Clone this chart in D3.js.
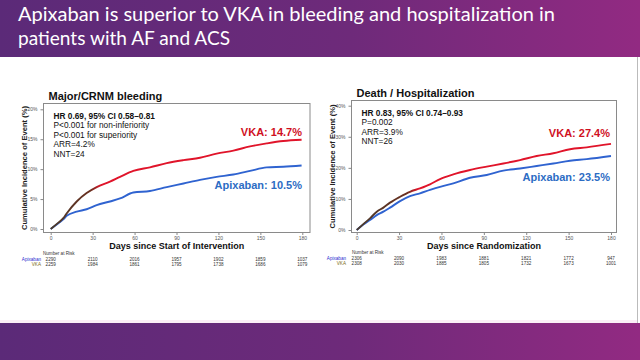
<!DOCTYPE html>
<html><head><meta charset="utf-8">
<script src="https://cdn.jsdelivr.net/npm/d3@7"></script>
<style>html,body{margin:0;padding:0;background:#fff;}svg{display:block;}</style>
</head><body>
<svg id="c" width="640" height="360"></svg>
<script>
const titleLines = ["Apixaban is superior to VKA in bleeding and hospitalization in", "patients with AF and ACS"];
const xTicks = [0, 30, 60, 90, 120, 150, 180];

// Panel 1: Major/CRNM bleeding
const bleedDays = [0, 5.5, 9, 11.4, 18.6, 25.7, 32.9, 42.4, 49.6, 59.1, 71, 83, 95, 106.8, 118.7, 130.7, 142.6, 154.5, 166.4, 179.5];
const bleedVKA  = [0, 1.06, 1.8, 2.6, 4.6, 6.0, 7.0, 7.9, 8.7, 9.7, 10.3, 11.0, 11.5, 11.9, 12.6, 13.1, 13.8, 14.3, 14.7, 14.9];
const bleedApix = [0, 0.95, 1.6, 2.2, 2.9, 3.3, 4.0, 4.6, 5.1, 6.1, 6.35, 7.0, 7.6, 8.2, 8.7, 9.1, 9.7, 10.3, 10.4, 10.6];
const bleedYTicks = [0, 5, 10, 15, 20];
const bleedRiskApix = ["2290", "2110", "2016", "1957", "1902", "1859", "1037"];
const bleedRiskVKA  = ["2259", "1984", "1861", "1795", "1738", "1686", "1079"];
const bleedStats = ["HR 0.69, 95% CI 0.58\u20130.81", "P<0.001 for non-inferiority", "P<0.001 for superiority", "ARR=4.2%", "NNT=24"];

// Panel 2: Death / Hospitalization
const hospDays = [0, 4.7, 9.4, 14.2, 18.9, 23.6, 30.7, 37.7, 44.8, 51.9, 59, 68.4, 80.2, 92, 103.8, 115.6, 127.4, 139.2, 151, 162.8, 180];
const hospVKA  = [0, 1.9, 3.75, 5.9, 7.2, 8.8, 10.7, 12.3, 13.4, 14.7, 16.4, 17.9, 19.3, 20.4, 21.4, 22.5, 23.8, 24.7, 26.0, 26.6, 27.7];
const hospApix = [0, 1.8, 3.2, 4.8, 5.9, 7.2, 9.3, 10.9, 11.8, 12.9, 13.9, 15.0, 16.8, 17.7, 19.1, 19.8, 20.6, 21.4, 22.3, 22.8, 23.8];
const hospYTicks = [0, 10, 20, 30, 40];
const hospRiskApix = ["2306", "2090", "1983", "1881", "1821", "1772", "947"];
const hospRiskVKA  = ["2308", "2030", "1885", "1805", "1732", "1673", "1001"];
const hospStats = ["HR 0.83, 95% CI 0.74\u20130.93", "P=0.002", "ARR=3.9%", "NNT=26"];

const svg = d3.select("#c");
const defs = svg.append("defs");
const g1 = defs.append("linearGradient").attr("id","bar").attr("x1","0").attr("x2","1");
g1.append("stop").attr("offset","0").attr("stop-color","#5b2a78");
g1.append("stop").attr("offset","0.55").attr("stop-color","#6e2a7a");
g1.append("stop").attr("offset","1").attr("stop-color","#922a82");

svg.append("rect").attr("x",0).attr("y",0).attr("width",640).attr("height",57).attr("fill","url(#bar)");
svg.append("rect").attr("x",0).attr("y",323).attr("width",640).attr("height",37).attr("fill","url(#bar)");
svg.append("line").attr("x1",637.5).attr("x2",637.5).attr("y1",57).attr("y2",323).attr("stroke","#bbb").attr("stroke-width",1);
svg.append("rect").attr("x",0).attr("y",320).attr("width",637).attr("height",3).attr("fill","#fbeef6");

const tw = [537, 212];
titleLines.forEach((t,i)=>{
  svg.append("text").attr("x",18).attr("y",21+i*24).attr("fill","#fff")
    .attr("font-family","Lato, 'Open Sans', sans-serif").attr("font-size",19.5)
    .attr("textLength",tw[i]).attr("lengthAdjust","spacingAndGlyphs").text(t);
});

const F = "'Liberation Sans', Arial, sans-serif";
const RED = "#e0142a", BLUE = "#2f63d0";

function panel(o){
  const x = d3.scaleLinear().domain([0,180]).range([o.x0,o.x1]);
  const y = d3.scaleLinear().domain([0,o.ymax]).range([o.y0,o.y1]);
  const g = svg.append("g");
  g.append("rect").attr("x",o.fl).attr("y",o.ft).attr("width",o.fr-o.fl).attr("height",o.fb-o.ft)
    .attr("fill","none").attr("stroke","#8a8a8a").attr("stroke-width",1);
  const ya = g.append("g").attr("transform",`translate(${o.fl},0)`)
    .call(d3.axisLeft(y).tickValues(o.yTicks).tickSize(3).tickFormat(d=>d+"%"));
  ya.select(".domain").remove();
  ya.selectAll("line").attr("stroke","#888");
  ya.selectAll("text").attr("font-family",F).attr("font-size",5).attr("fill","#555");
  const xa = g.append("g").attr("transform",`translate(0,${o.fb})`)
    .call(d3.axisBottom(x).tickValues(xTicks).tickSize(2.5).tickPadding(1.5));
  xa.select(".domain").remove();
  xa.selectAll("line").attr("stroke","#888");
  xa.selectAll("text").attr("font-family",F).attr("font-size",5).attr("fill","#555");
  g.append("text").attr("x",o.fl+5).attr("y",o.ft-4).attr("font-family",F).attr("font-weight","bold")
    .attr("font-size",11).attr("fill","#111").text(o.title);
  g.append("text").attr("x",(o.fl+o.fr)/2).attr("y",o.fb+16).attr("text-anchor","middle")
    .attr("font-family",F).attr("font-weight","bold").attr("font-size",9).attr("fill","#111").text(o.xTitle);
  g.append("text").attr("transform",`translate(${o.fl-17},${(o.ft+o.fb)/2}) rotate(-90)`).attr("text-anchor","middle")
    .attr("font-family",F).attr("font-weight","bold").attr("font-size",7.6).attr("fill","#222")
    .text("Cumulative Incidence of Event (%)");
  o.stats.forEach((s,i)=>{
    g.append("text").attr("x",o.fl+10).attr("y",o.ft+15+i*9.6).attr("font-family",F)
      .attr("font-weight",i===0?"bold":"normal").attr("font-size",8.3).attr("fill","#111").text(s);
  });
  const gid = "vg"+o.id;
  const lg = defs.append("linearGradient").attr("id",gid).attr("gradientUnits","userSpaceOnUse")
    .attr("x1",x(0)).attr("x2",x(180)).attr("y1",0).attr("y2",0);
  lg.append("stop").attr("offset",0).attr("stop-color","#4a3a2a");
  lg.append("stop").attr("offset",o.darkEnd).attr("stop-color","#6a3020");
  lg.append("stop").attr("offset",o.darkEnd+0.04).attr("stop-color",RED);
  lg.append("stop").attr("offset",1).attr("stop-color",RED);
  const line = d3.line().x((d,i)=>x(o.days[i])).y(d=>y(d)).curve(d3.curveMonotoneX);
  g.append("path").attr("d",line(o.apix)).attr("fill","none").attr("stroke",BLUE).attr("stroke-width",1.9);
  g.append("path").attr("d",line(o.vka)).attr("fill","none").attr("stroke",`url(#${gid})`).attr("stroke-width",1.9);
  g.append("text").attr("x",o.lx).attr("y",o.vkaLy).attr("text-anchor","end").attr("font-family",F)
    .attr("font-weight","bold").attr("font-size",11).attr("fill","#d0101e").text(o.vkaLabel);
  g.append("text").attr("x",o.lx).attr("y",o.apLy).attr("text-anchor","end").attr("font-family",F)
    .attr("font-weight","bold").attr("font-size",11).attr("fill","#2c6cc4").text(o.apLabel);
  g.append("text").attr("x",o.nrX).attr("y",o.nrY).attr("font-family",F).attr("font-size",4.6).attr("fill","#333").text("Number at Risk");
  g.append("text").attr("x",o.nrLab).attr("y",o.nrY+6).attr("text-anchor","end").attr("font-family",F)
    .attr("font-size",4.6).attr("fill","#2a2ad0").text("Apixaban");
  g.append("text").attr("x",o.nrLab).attr("y",o.nrY+11).attr("text-anchor","end").attr("font-family",F)
    .attr("font-size",4.6).attr("fill","#7a6a10").text("VKA");
  xTicks.forEach((t,i)=>{
    g.append("text").attr("x",x(t)).attr("y",o.nrY+6).attr("text-anchor","middle").attr("font-family",F)
      .attr("font-size",4.6).attr("fill","#333").text(o.riskApix[i]);
    g.append("text").attr("x",x(t)).attr("y",o.nrY+11).attr("text-anchor","middle").attr("font-family",F)
      .attr("font-size",4.6).attr("fill","#333").text(o.riskVKA[i]);
  });
}

panel({id:1, x0:50.7, x1:302.3, y0:229, y1:109.3, ymax:20, yTicks:bleedYTicks,
  fl:43.5, fr:310, ft:103.5, fb:232.5, title:"Major/CRNM bleeding", xTitle:"Days since Start of Intervention",
  stats:bleedStats, days:bleedDays, vka:bleedVKA, apix:bleedApix, darkEnd:0.16,
  lx:302, vkaLy:135.5, apLy:189, vkaLabel:"VKA: 14.7%", apLabel:"Apixaban: 10.5%",
  nrX:43, nrY:255, nrLab:41, riskApix:bleedRiskApix, riskVKA:bleedRiskVKA});

panel({id:2, x0:356.7, x1:611, y0:230, y1:105.7, ymax:40, yTicks:hospYTicks,
  fl:351.5, fr:616.5, ft:100.5, fb:232.5, title:"Death / Hospitalization", xTitle:"Days since Randomization",
  stats:hospStats, days:hospDays, vka:hospVKA, apix:hospApix, darkEnd:0.2,
  lx:610, vkaLy:137, apLy:180.5, vkaLabel:"VKA: 27.4%", apLabel:"Apixaban: 23.5%",
  nrX:352, nrY:253.5, nrLab:346, riskApix:hospRiskApix, riskVKA:hospRiskVKA});
</script>
</body></html>
